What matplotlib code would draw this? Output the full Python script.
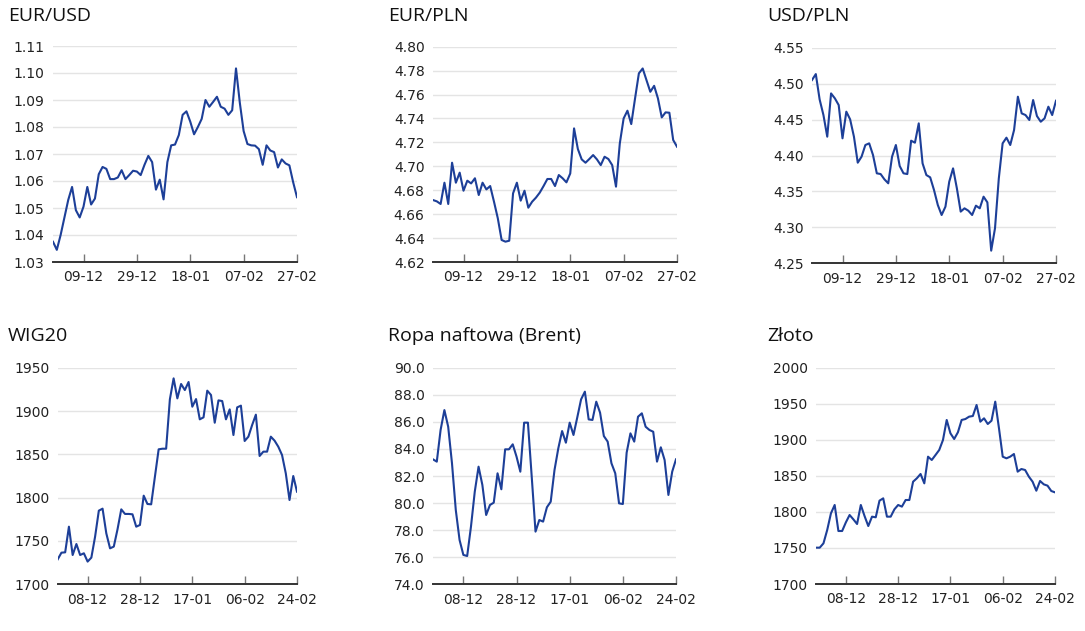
import matplotlib
matplotlib.use("Agg")
import matplotlib.pyplot as plt

# business-day series, 65 points each
eurusd = [1.0375, 1.0345, 1.0400, 1.0465, 1.0530, 1.0578, 1.0492, 1.0465, 1.0505, 1.0578,
          1.0513, 1.0535, 1.0625, 1.0652, 1.0645, 1.0607, 1.0607, 1.0613, 1.0640, 1.0607,
          1.0622, 1.0638, 1.0635, 1.0622, 1.0660, 1.0693, 1.0670, 1.0568, 1.0605, 1.0532,
          1.0670, 1.0732, 1.0735, 1.0770, 1.0845, 1.0858, 1.0820, 1.0773, 1.0800, 1.0830,
          1.0900, 1.0875, 1.0893, 1.0912, 1.0875, 1.0868, 1.0845, 1.0862, 1.1017, 1.0890,
          1.0785, 1.0737, 1.0732, 1.0731, 1.0718, 1.0660, 1.0732, 1.0713, 1.0707, 1.0650,
          1.0680, 1.0665, 1.0658, 1.0595, 1.0540]
eurpln = [4.6718, 4.6707, 4.6685, 4.6863, 4.6685, 4.7030, 4.6863, 4.6947, 4.6796, 4.6880,
          4.6857, 4.6900, 4.6760, 4.6863, 4.6807, 4.6835, 4.6704, 4.6565, 4.6384, 4.6370,
          4.6378, 4.6774, 4.6863, 4.6713, 4.6796, 4.6654, 4.6704, 4.6738, 4.6780, 4.6835,
          4.6894, 4.6894, 4.6835, 4.6927, 4.6900, 4.6866, 4.6940, 4.7317, 4.7144, 4.7058,
          4.7030, 4.7061, 4.7094, 4.7058, 4.7010, 4.7080, 4.7061, 4.7010, 4.6830, 4.7192,
          4.7400, 4.7465, 4.7353, 4.7568, 4.7777, 4.7818, 4.7720, 4.7623, 4.7673, 4.7568,
          4.7409, 4.7451, 4.7448, 4.7220, 4.7164]
usdpln = [4.5050, 4.5133, 4.4780, 4.4563, 4.4262, 4.4864, 4.4795, 4.4702, 4.4239, 4.4610,
          4.4503, 4.4262, 4.3900, 4.3984, 4.4146, 4.4169, 4.4007, 4.3752, 4.3742, 4.3668,
          4.3613, 4.3984, 4.4146, 4.3854, 4.3752, 4.3742, 4.4206, 4.4178, 4.4447, 4.3891,
          4.3728, 4.3696, 4.3520, 4.3311, 4.3172, 4.3288, 4.3636, 4.3821, 4.3543, 4.3219,
          4.3265, 4.3232, 4.3172, 4.3302, 4.3265, 4.3427, 4.3348, 4.2676, 4.2987, 4.3682,
          4.4169, 4.4248, 4.4146, 4.4354, 4.4818, 4.4586, 4.4563, 4.4494, 4.4772, 4.4549,
          4.4470, 4.4517, 4.4679, 4.4563, 4.4762]
wig20 = [1728.8, 1736.5, 1736.9, 1766.5, 1733.8, 1746.5, 1733.8, 1735.8, 1726.2, 1730.8,
         1755.0, 1785.0, 1787.3, 1758.8, 1741.5, 1743.5, 1763.5, 1786.5, 1781.2, 1781.2,
         1780.8, 1766.5, 1768.5, 1802.3, 1792.7, 1792.3, 1824.2, 1855.8, 1856.5, 1856.5,
         1913.5, 1937.7, 1914.6, 1931.2, 1924.2, 1933.5, 1905.0, 1913.8, 1890.4, 1892.7,
         1923.5, 1918.5, 1886.5, 1912.3, 1911.5, 1890.4, 1901.9, 1872.3, 1904.2, 1906.2,
         1865.4, 1870.4, 1883.8, 1895.8, 1848.1, 1853.1, 1853.1, 1870.4, 1865.8, 1858.8,
         1849.2, 1828.1, 1797.3, 1825.0, 1806.9]
brent = [83.23, 83.06, 85.40, 86.87, 85.64, 82.94, 79.49, 77.27, 76.17, 76.09,
         78.26, 80.84, 82.69, 81.34, 79.12, 79.86, 80.03, 82.20, 81.02, 83.97,
         83.97, 84.34, 83.43, 82.32, 85.94, 85.94, 81.95, 77.89, 78.75, 78.63,
         79.69, 80.10, 82.44, 84.04, 85.32, 84.46, 85.94, 85.03, 86.33, 87.66,
         88.23, 86.18, 86.14, 87.49, 86.68, 84.95, 84.54, 82.94, 82.20, 79.98,
         79.93, 83.72, 85.15, 84.54, 86.38, 86.63, 85.64, 85.40, 85.27, 83.06,
         84.12, 83.18, 80.60, 82.32, 83.23]
zloto = [1750.4, 1750.4, 1756.4, 1774.9, 1798.0, 1809.6, 1773.5, 1773.5, 1785.5, 1795.7,
         1789.7, 1783.2, 1809.6, 1794.3, 1780.4, 1793.4, 1792.5, 1815.6, 1818.8, 1793.4,
         1793.4, 1803.6, 1809.6, 1807.3, 1816.5, 1816.5, 1841.9, 1846.6, 1852.6, 1839.6,
         1876.6, 1872.0, 1878.9, 1885.9, 1899.7, 1927.5, 1909.0, 1901.1, 1910.4, 1927.5,
         1928.8, 1932.1, 1933.0, 1948.3, 1925.1, 1929.8, 1921.9, 1926.5, 1952.9, 1915.9,
         1876.6, 1874.3, 1876.6, 1880.3, 1855.8, 1859.5, 1858.1, 1848.9, 1841.9, 1829.4,
         1842.9, 1838.2, 1836.4, 1829.0, 1827.1]

top_ticks = ["09-12", "29-12", "18-01", "07-02", "27-02"]
bottom_ticks = ["08-12", "28-12", "17-01", "06-02", "24-02"]
tick_idx = [8, 22, 36, 50, 64]

W, H = 1085, 631
LINE = "#1d3f98"

# (title, data, ylim, ystep, fmt, xlabels, [left, right, top, bottom] px, title xy px)
panels = [
    ("EUR/USD", eurusd, (1.03, 1.11), 0.01, "{:.2f}", top_ticks, (53, 297, 46, 262), (8, 16)),
    ("EUR/PLN", eurpln, (4.62, 4.80), 0.02, "{:.2f}", top_ticks, (433, 677, 46.7, 262), (388, 16)),
    ("USD/PLN", usdpln, (4.25, 4.55), 0.05, "{:.2f}", top_ticks, (812, 1056, 47.7, 263.3), (767, 16)),
    ("WIG20", wig20, (1700, 1950), 50, "{:.0f}", bottom_ticks, (57.7, 297, 367.7, 584.3), (8, 336)),
    ("Ropa naftowa (Brent)", brent, (74, 90), 2, "{:.1f}", bottom_ticks, (433, 676, 367.7, 584.3), (388, 336)),
    ("Złoto", zloto, (1700, 2000), 50, "{:.0f}", bottom_ticks, (816, 1055, 367.7, 584), (767, 336)),
]

fig = plt.figure(figsize=(W / 100, H / 100), dpi=100)

for title, data, (lo, hi), step, fmt, xl, (l, r, t, b), (tx, ty) in panels:
    ax = fig.add_axes([l / W, 1 - b / H, (r - l) / W, (b - t) / H])
    x = list(range(len(data)))
    ax.plot(x, data, color=LINE, lw=1.5, solid_joinstyle="round", zorder=3)
    ax.set_xlim(0, len(data) - 1)
    ax.set_ylim(lo, hi)
    n = int(round((hi - lo) / step))
    yt = [lo + i * step for i in range(n + 1)]
    ax.set_yticks(yt)
    ax.set_yticklabels([fmt.format(v) for v in yt])
    ax.set_xticks(tick_idx)
    ax.set_xticklabels(xl)
    ax.grid(axis="y", color="#e4e4e4", lw=1)
    ax.set_axisbelow(True)
    for s in ("top", "right", "left"):
        ax.spines[s].set_visible(False)
    ax.spines["bottom"].set_color("#333333")
    ax.spines["bottom"].set_linewidth(1.4)
    ax.spines["bottom"].set_zorder(4)
    ax.tick_params(axis="y", length=0, pad=6, labelsize=10, labelcolor="#222222")
    ax.tick_params(axis="x", direction="in", length=6, width=1, color="#777777",
                   pad=6, labelsize=10, labelcolor="#222222")
    fig.text(tx / W, 1 - ty / H, title, fontsize=14, family="Open Sans",
             fontweight="medium", color="#111111", ha="left", va="center")

fig.savefig("out.png", dpi=100, facecolor="white")
